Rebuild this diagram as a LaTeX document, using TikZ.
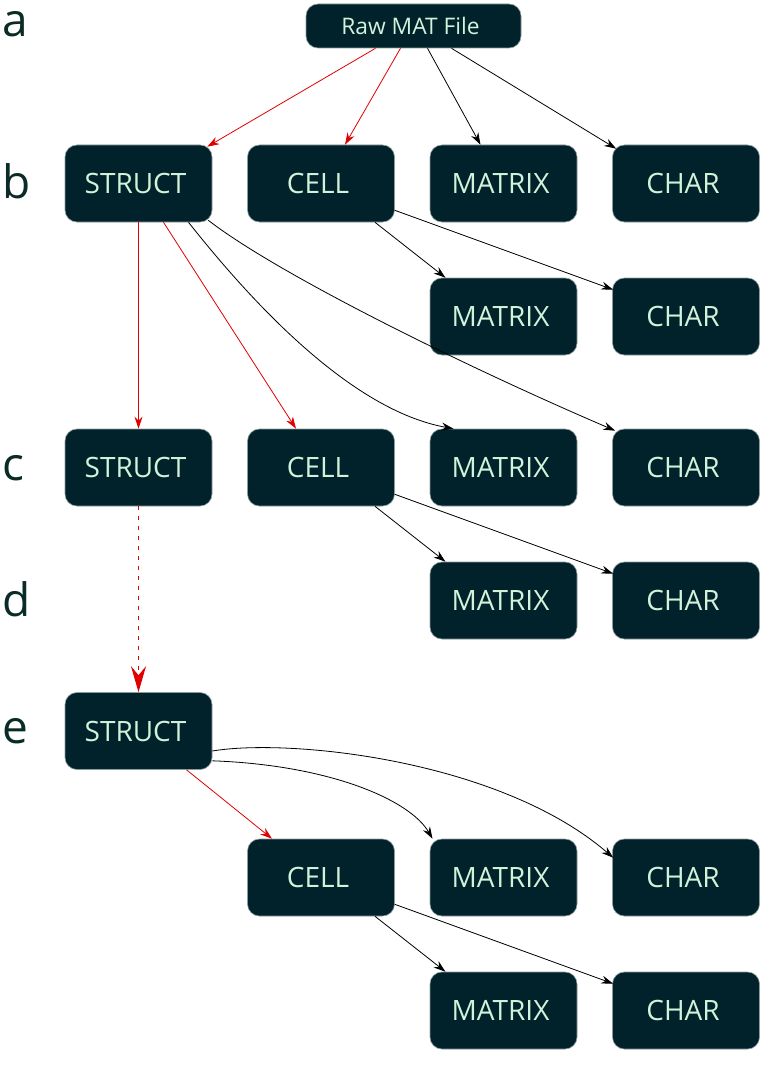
\documentclass[tikz,border=0pt]{standalone}
\usepackage{fontspec}
\setmainfont{Open Sans}
\usetikzlibrary{arrows.meta}
\definecolor{boxfill}{HTML}{01222B}
\definecolor{boxline}{HTML}{8A9C9C}
\definecolor{boxtext}{HTML}{D2F2DA}
\definecolor{lbl}{HTML}{0B2B26}
\definecolor{redline}{HTML}{E00000}
\tikzset{
  box/.style={rectangle, rounded corners=12pt, fill=boxfill, draw=boxline, line width=0.6pt,
    minimum width=147pt, minimum height=77pt, inner sep=0pt, text=boxtext,
    font=\fontsize{28}{32}\selectfont},
  rawbox/.style={box, minimum width=215pt, minimum height=44pt, font=\fontsize{22.8}{26}\selectfont},
  lab/.style={anchor=base west, inner sep=0pt, text=lbl, font=\fontsize{46}{50}\selectfont},
  edge/.style={-{Stealth[length=12pt,width=8pt,inset=4pt]}, line width=0.8pt, black},
  redge/.style={edge, redline},
  dotedge/.style={-{Stealth[length=26pt,width=15pt,inset=9pt]}, line width=1.9pt, redline,
    dash pattern=on 4pt off 6pt},
}
\newcommand{\bt}[1]{\raisebox{-1.5pt}{\hspace*{-6pt}#1}}
\begin{document}
\begin{tikzpicture}[x=1pt,y=-1pt]
\useasboundingbox (0,0) rectangle (783,1078);
% labels
\node[lab] (la) at (2,37) {a};
\node[lab] (lb) at (2,199) {b};
\node[lab] (lc) at (2,480) {c};
\node[lab] (ld) at (2,616) {d};
\node[lab] (le) at (2,743) {e};
% nodes
\node[rawbox] (raw) at (413.5,26) {\bt{Raw MAT File}};
\node[box] (sb) at (138.5,183.5) {\bt{STRUCT}};
\node[box] (cb) at (321,183.5) {\bt{CELL}};
\node[box] (mb) at (503.5,183.5) {\bt{MATRIX}};
\node[box] (hb) at (686,183.5) {\bt{CHAR}};
\node[box] (mb2) at (503.5,316.5) {\bt{MATRIX}};
\node[box] (hb2) at (686,316.5) {\bt{CHAR}};
\node[box] (sc) at (138.5,467.5) {\bt{STRUCT}};
\node[box] (cc) at (321,467.5) {\bt{CELL}};
\node[box] (mc) at (503.5,467.5) {\bt{MATRIX}};
\node[box] (hc) at (686,467.5) {\bt{CHAR}};
\node[box] (md) at (503.5,600.5) {\bt{MATRIX}};
\node[box] (hd) at (686,600.5) {\bt{CHAR}};
\node[box] (se) at (138.5,731) {\bt{STRUCT}};
\node[box] (ce) at (321,877.5) {\bt{CELL}};
\node[box] (me) at (503.5,877.5) {\bt{MATRIX}};
\node[box] (he) at (686,877.5) {\bt{CHAR}};
\node[box] (mf) at (503.5,1010.5) {\bt{MATRIX}};
\node[box] (hf) at (686,1010.5) {\bt{CHAR}};
% edges from raw
\draw[redge] ([xshift=-38pt]raw.south) -- ([xshift=-5pt,yshift=-2pt]sb.north east);
\draw[redge] ([xshift=-13pt]raw.south) -- ([xshift=24pt]cb.north);
\draw[edge] ([xshift=14pt]raw.south) -- ([xshift=-23pt]mb.north);
\draw[edge] ([xshift=38pt]raw.south) -- ([xshift=4pt,yshift=-4pt]hb.north west);
% from CELL b
\draw[edge] ([xshift=54pt]cb.south) -- ([xshift=-58pt]mb2.north);
\draw[edge] ([yshift=12pt]cb.south east) -- ([xshift=1pt,yshift=-12pt]hb2.north west);
% from STRUCT b
\draw[redge] (sb.south) -- (sc.north);
\draw[redge] ([xshift=25pt]sb.south) -- ([xshift=-25pt]cc.north);
\draw[edge] ([xshift=50pt]sb.south) .. controls (250,300) and (350,410) .. ([xshift=-50pt]mc.north);
\draw[edge] ([xshift=-4pt,yshift=2pt]sb.south east) .. controls (275,272) and (455,362) .. ([xshift=3pt,yshift=-2pt]hc.north west);
% from CELL c
\draw[edge] ([xshift=54pt]cc.south) -- ([xshift=-58pt]md.north);
\draw[edge] ([yshift=12pt]cc.south east) -- ([xshift=1pt,yshift=-12pt]hd.north west);
% dotted
\draw[dotedge] (sc.south) -- (se.north);
% from STRUCT e
\draw[redge] ([xshift=48pt]se.south) -- ([xshift=-49pt]ce.north);
\draw[edge] ([yshift=9pt]se.south east) .. controls (330,765) and (410,800) .. ([xshift=-71pt]me.north);
\draw[edge] ([yshift=-20pt]se.east) .. controls (290,738) and (500,760) .. ([xshift=1pt,yshift=-19pt]he.north west);
% from CELL e
\draw[edge] ([xshift=54pt]ce.south) -- ([xshift=-58pt]mf.north);
\draw[edge] ([yshift=12pt]ce.south east) -- ([xshift=1pt,yshift=-12pt]hf.north west);
\end{tikzpicture}
\end{document}
